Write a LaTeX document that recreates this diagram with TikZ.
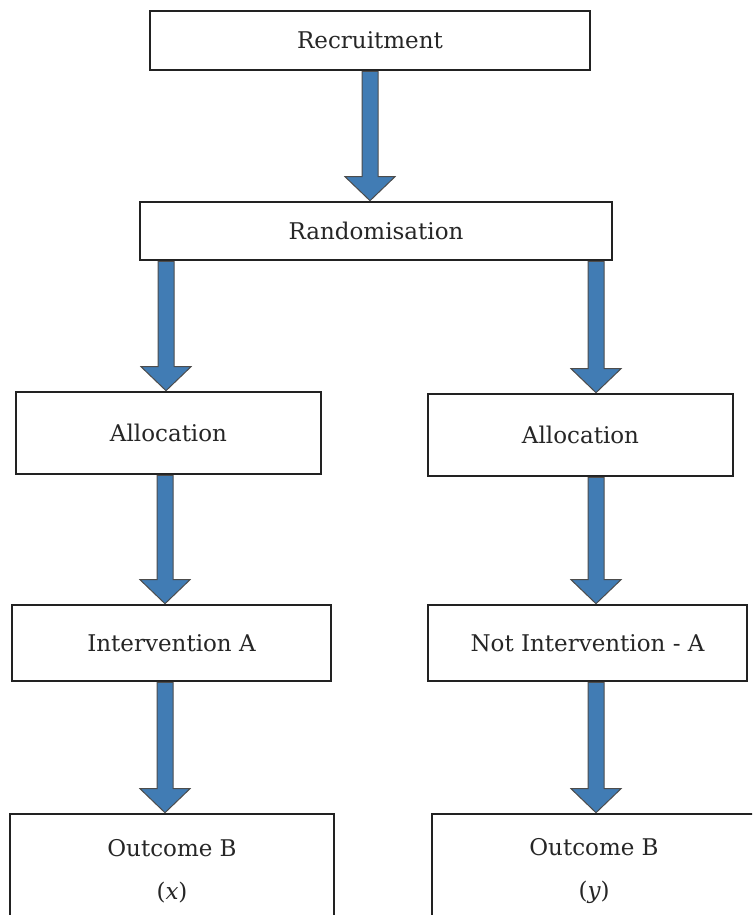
\documentclass[tikz,border=0pt]{standalone}
\usepackage{fontspec}
\setmainfont{DejaVu Serif}
\usepackage{tikz}
\usetikzlibrary{calc}

\definecolor{arrowblue}{RGB}{65,124,180}
\definecolor{boxline}{RGB}{34,34,34}

% block arrow from the bottom of one box to the top of the next
\newcommand{\fatarrow}[3]{%
  \draw[fat arrow] let \p1=(#2.south), \p2=(#3.north) in
    (#1pt-8pt,\y1) -- (#1pt-8pt,\y2+24pt) -- (#1pt-25pt,\y2+24pt) -- (#1pt,\y2)
    -- (#1pt+25pt,\y2+24pt) -- (#1pt+8pt,\y2+24pt) -- (#1pt+8pt,\y1) -- cycle;}

\begin{document}
\begin{tikzpicture}[x=1pt,y=-1pt,
                main box/.style={draw=boxline, line width=2.6pt, fill=white, rectangle,
                  font=\fontsize{23}{27}\selectfont, text=black!85},
                fat arrow/.style={fill=arrowblue, draw=black!70, line width=1pt, line join=miter}]

  \clip (0,0) rectangle (752,915);
  \useasboundingbox (0,0) rectangle (752,915);

  \node[main box, minimum width=440pt, minimum height=59pt] (rec) at (370,40.5) {Recruitment};
  \node[main box, minimum width=472pt, minimum height=58pt] (rand) at (376,231) {Randomisation};
  \node[main box, minimum width=305pt, minimum height=82pt] (allocL) at (168.5,433) {Allocation};
  \node[main box, minimum width=305pt, minimum height=82pt] (allocR) at (580.5,435) {Allocation};
  \node[main box, minimum width=319pt, minimum height=76pt] (intA) at (171.5,643) {Intervention A};
  \node[main box, minimum width=319pt, minimum height=76pt] (notA) at (587.5,643) {Not Intervention - A};
  \node[main box, minimum width=324pt, minimum height=115pt, align=center] (outL) at (172,871.5)
    {Outcome B\\[16pt]({\itshape x})};
  \node[main box, minimum width=324pt, minimum height=115pt, align=center] (outR) at (594,871.5)
    {Outcome B\\[16pt]({\itshape y})};

  \fatarrow{370}{rec}{rand}
  \fatarrow{166}{rand}{allocL}
  \fatarrow{596}{rand}{allocR}
  \fatarrow{165}{allocL}{intA}
  \fatarrow{596}{allocR}{notA}
  \fatarrow{165}{intA}{outL}
  \fatarrow{596}{notA}{outR}
\end{tikzpicture}
\end{document}
